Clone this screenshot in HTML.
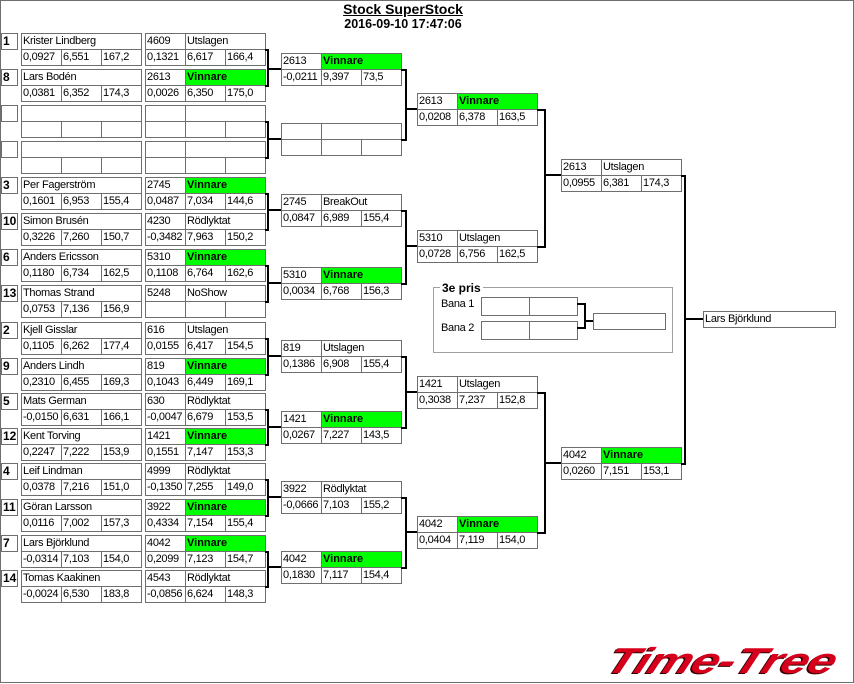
<!DOCTYPE html>
<html><head><meta charset="utf-8">
<style>
html,body{margin:0;padding:0;background:#fff;}
body{width:854px;height:684px;position:relative;overflow:hidden;font-family:"Liberation Sans",Arial,sans-serif;color:#000;}
.frame{position:absolute;left:0;top:0;width:854px;height:683px;box-sizing:border-box;border:1px solid #6e6e6e;}
.b{position:absolute;width:121px;height:33px;}
.b div{position:absolute;box-sizing:border-box;height:17px;border:1px solid #6e6e6e;font-size:11px;line-height:15px;padding-left:1px;white-space:nowrap;overflow:hidden;letter-spacing:-0.3px;}
.b .n{left:0;top:0;width:121px;}
.b .a{left:0;top:0;width:41px;}
.b .s{left:40px;top:0;width:81px;}
.b .r{left:0;top:16px;width:41px;}
.b .e{left:40px;top:16px;width:41px;}
.b .v{left:80px;top:16px;width:41px;}
.b .g{background:#00ff00;font-weight:bold;letter-spacing:0;}
.sd{position:absolute;left:1px;width:17px;height:17px;box-sizing:border-box;border:1px solid #6e6e6e;font-size:12px;font-weight:bold;line-height:15px;padding-left:1px;white-space:nowrap;}
.l{position:absolute;background:#000;}
.bx{position:absolute;box-sizing:border-box;border:1px solid #6e6e6e;font-size:11px;line-height:15px;padding-left:1px;white-space:nowrap;letter-spacing:-0.3px;}
.lbl{position:absolute;font-size:11px;line-height:15px;white-space:nowrap;letter-spacing:-0.3px;}
</style></head><body>
<div class="frame"></div>

<div style="position:absolute;left:303px;top:1px;width:200px;text-align:center;font-weight:bold;font-size:14px;line-height:16px;text-decoration:underline;">Stock SuperStock</div>
<div style="position:absolute;left:303px;top:17px;width:200px;text-align:center;font-weight:bold;font-size:12.5px;line-height:14px;">2016-09-10 17:47:06</div>

<!-- Round 1 -->
<div class="sd" style="top:33px">1</div>
<div class="b" style="left:21px;top:33px"><div class="n">Krister Lindberg</div><div class="r">0,0927</div><div class="e">6,551</div><div class="v">167,2</div></div>
<div class="b" style="left:145px;top:33px"><div class="a">4609</div><div class="s">Utslagen</div><div class="r">0,1321</div><div class="e">6,617</div><div class="v">166,4</div></div>

<div class="sd" style="top:69px">8</div>
<div class="b" style="left:21px;top:69px"><div class="n">Lars Bodén</div><div class="r">0,0381</div><div class="e">6,352</div><div class="v">174,3</div></div>
<div class="b" style="left:145px;top:69px"><div class="a">2613</div><div class="s g">Vinnare</div><div class="r">0,0026</div><div class="e">6,350</div><div class="v">175,0</div></div>

<div class="sd" style="top:105px"></div>
<div class="b" style="left:21px;top:105px"><div class="n"></div><div class="r"></div><div class="e"></div><div class="v"></div></div>
<div class="b" style="left:145px;top:105px"><div class="a"></div><div class="s"></div><div class="r"></div><div class="e"></div><div class="v"></div></div>

<div class="sd" style="top:141px"></div>
<div class="b" style="left:21px;top:141px"><div class="n"></div><div class="r"></div><div class="e"></div><div class="v"></div></div>
<div class="b" style="left:145px;top:141px"><div class="a"></div><div class="s"></div><div class="r"></div><div class="e"></div><div class="v"></div></div>

<div class="sd" style="top:177px">3</div>
<div class="b" style="left:21px;top:177px"><div class="n">Per Fagerström</div><div class="r">0,1601</div><div class="e">6,953</div><div class="v">155,4</div></div>
<div class="b" style="left:145px;top:177px"><div class="a">2745</div><div class="s g">Vinnare</div><div class="r">0,0487</div><div class="e">7,034</div><div class="v">144,6</div></div>

<div class="sd" style="top:213px">10</div>
<div class="b" style="left:21px;top:213px"><div class="n">Simon Brusén</div><div class="r">0,3226</div><div class="e">7,260</div><div class="v">150,7</div></div>
<div class="b" style="left:145px;top:213px"><div class="a">4230</div><div class="s">Rödlyktat</div><div class="r">-0,3482</div><div class="e">7,963</div><div class="v">150,2</div></div>

<div class="sd" style="top:249px">6</div>
<div class="b" style="left:21px;top:249px"><div class="n">Anders Ericsson</div><div class="r">0,1180</div><div class="e">6,734</div><div class="v">162,5</div></div>
<div class="b" style="left:145px;top:249px"><div class="a">5310</div><div class="s g">Vinnare</div><div class="r">0,1108</div><div class="e">6,764</div><div class="v">162,6</div></div>

<div class="sd" style="top:285px">13</div>
<div class="b" style="left:21px;top:285px"><div class="n">Thomas Strand</div><div class="r">0,0753</div><div class="e">7,136</div><div class="v">156,9</div></div>
<div class="b" style="left:145px;top:285px"><div class="a">5248</div><div class="s">NoShow</div><div class="r"></div><div class="e"></div><div class="v"></div></div>

<div class="sd" style="top:322px">2</div>
<div class="b" style="left:21px;top:322px"><div class="n">Kjell Gisslar</div><div class="r">0,1105</div><div class="e">6,262</div><div class="v">177,4</div></div>
<div class="b" style="left:145px;top:322px"><div class="a">616</div><div class="s">Utslagen</div><div class="r">0,0155</div><div class="e">6,417</div><div class="v">154,5</div></div>

<div class="sd" style="top:358px">9</div>
<div class="b" style="left:21px;top:358px"><div class="n">Anders Lindh</div><div class="r">0,2310</div><div class="e">6,455</div><div class="v">169,3</div></div>
<div class="b" style="left:145px;top:358px"><div class="a">819</div><div class="s g">Vinnare</div><div class="r">0,1043</div><div class="e">6,449</div><div class="v">169,1</div></div>

<div class="sd" style="top:393px">5</div>
<div class="b" style="left:21px;top:393px"><div class="n">Mats German</div><div class="r">-0,0150</div><div class="e">6,631</div><div class="v">166,1</div></div>
<div class="b" style="left:145px;top:393px"><div class="a">630</div><div class="s">Rödlyktat</div><div class="r">-0,0047</div><div class="e">6,679</div><div class="v">153,5</div></div>

<div class="sd" style="top:428px">12</div>
<div class="b" style="left:21px;top:428px"><div class="n">Kent Torving</div><div class="r">0,2247</div><div class="e">7,222</div><div class="v">153,9</div></div>
<div class="b" style="left:145px;top:428px"><div class="a">1421</div><div class="s g">Vinnare</div><div class="r">0,1551</div><div class="e">7,147</div><div class="v">153,3</div></div>

<div class="sd" style="top:463px">4</div>
<div class="b" style="left:21px;top:463px"><div class="n">Leif Lindman</div><div class="r">0,0378</div><div class="e">7,216</div><div class="v">151,0</div></div>
<div class="b" style="left:145px;top:463px"><div class="a">4999</div><div class="s">Rödlyktat</div><div class="r">-0,1350</div><div class="e">7,255</div><div class="v">149,0</div></div>

<div class="sd" style="top:499px">11</div>
<div class="b" style="left:21px;top:499px"><div class="n">Göran Larsson</div><div class="r">0,0116</div><div class="e">7,002</div><div class="v">157,3</div></div>
<div class="b" style="left:145px;top:499px"><div class="a">3922</div><div class="s g">Vinnare</div><div class="r">0,4334</div><div class="e">7,154</div><div class="v">155,4</div></div>

<div class="sd" style="top:535px">7</div>
<div class="b" style="left:21px;top:535px"><div class="n">Lars Björklund</div><div class="r">-0,0314</div><div class="e">7,103</div><div class="v">154,0</div></div>
<div class="b" style="left:145px;top:535px"><div class="a">4042</div><div class="s g">Vinnare</div><div class="r">0,2099</div><div class="e">7,123</div><div class="v">154,7</div></div>

<div class="sd" style="top:570px">14</div>
<div class="b" style="left:21px;top:570px"><div class="n">Tomas Kaakinen</div><div class="r">-0,0024</div><div class="e">6,530</div><div class="v">183,8</div></div>
<div class="b" style="left:145px;top:570px"><div class="a">4543</div><div class="s">Rödlyktat</div><div class="r">-0,0856</div><div class="e">6,624</div><div class="v">148,3</div></div>

<!-- Round 2 -->
<div class="b" style="left:281px;top:53px"><div class="a">2613</div><div class="s g">Vinnare</div><div class="r">-0,0211</div><div class="e">9,397</div><div class="v">73,5</div></div>
<div class="b" style="left:281px;top:123px"><div class="a"></div><div class="s"></div><div class="r"></div><div class="e"></div><div class="v"></div></div>
<div class="b" style="left:281px;top:194px"><div class="a">2745</div><div class="s">BreakOut</div><div class="r">0,0847</div><div class="e">6,989</div><div class="v">155,4</div></div>
<div class="b" style="left:281px;top:267px"><div class="a">5310</div><div class="s g">Vinnare</div><div class="r">0,0034</div><div class="e">6,768</div><div class="v">156,3</div></div>
<div class="b" style="left:281px;top:340px"><div class="a">819</div><div class="s">Utslagen</div><div class="r">0,1386</div><div class="e">6,908</div><div class="v">155,4</div></div>
<div class="b" style="left:281px;top:411px"><div class="a">1421</div><div class="s g">Vinnare</div><div class="r">0,0267</div><div class="e">7,227</div><div class="v">143,5</div></div>
<div class="b" style="left:281px;top:481px"><div class="a">3922</div><div class="s">Rödlyktat</div><div class="r">-0,0666</div><div class="e">7,103</div><div class="v">155,2</div></div>
<div class="b" style="left:281px;top:551px"><div class="a">4042</div><div class="s g">Vinnare</div><div class="r">0,1830</div><div class="e">7,117</div><div class="v">154,4</div></div>

<!-- Round 3 -->
<div class="b" style="left:417px;top:93px"><div class="a">2613</div><div class="s g">Vinnare</div><div class="r">0,0208</div><div class="e">6,378</div><div class="v">163,5</div></div>
<div class="b" style="left:417px;top:230px"><div class="a">5310</div><div class="s">Utslagen</div><div class="r">0,0728</div><div class="e">6,756</div><div class="v">162,5</div></div>
<div class="b" style="left:417px;top:376px"><div class="a">1421</div><div class="s">Utslagen</div><div class="r">0,3038</div><div class="e">7,237</div><div class="v">152,8</div></div>
<div class="b" style="left:417px;top:516px"><div class="a">4042</div><div class="s g">Vinnare</div><div class="r">0,0404</div><div class="e">7,119</div><div class="v">154,0</div></div>

<!-- Round 4 -->
<div class="b" style="left:561px;top:159px"><div class="a">2613</div><div class="s">Utslagen</div><div class="r">0,0955</div><div class="e">6,381</div><div class="v">174,3</div></div>
<div class="b" style="left:561px;top:447px"><div class="a">4042</div><div class="s g">Vinnare</div><div class="r">0,0260</div><div class="e">7,151</div><div class="v">153,1</div></div>

<!-- Final -->
<div class="bx" style="left:703px;top:311px;width:133px;height:17px;">Lars Björklund</div>

<!-- R1 connectors -->
<div class="l" style="left:265px;top:49px;width:4px;height:2px"></div><div class="l" style="left:265px;top:85px;width:4px;height:2px"></div><div class="l" style="left:267px;top:49px;width:2px;height:38px"></div><div class="l" style="left:269px;top:68px;width:12px;height:2px"></div>
<div class="l" style="left:265px;top:121px;width:4px;height:2px"></div><div class="l" style="left:265px;top:157px;width:4px;height:2px"></div><div class="l" style="left:267px;top:121px;width:2px;height:38px"></div><div class="l" style="left:269px;top:138px;width:12px;height:2px"></div>
<div class="l" style="left:265px;top:193px;width:4px;height:2px"></div><div class="l" style="left:265px;top:229px;width:4px;height:2px"></div><div class="l" style="left:267px;top:193px;width:2px;height:38px"></div><div class="l" style="left:269px;top:209px;width:12px;height:2px"></div>
<div class="l" style="left:265px;top:265px;width:4px;height:2px"></div><div class="l" style="left:265px;top:301px;width:4px;height:2px"></div><div class="l" style="left:267px;top:265px;width:2px;height:38px"></div><div class="l" style="left:269px;top:282px;width:12px;height:2px"></div>
<div class="l" style="left:265px;top:338px;width:4px;height:2px"></div><div class="l" style="left:265px;top:374px;width:4px;height:2px"></div><div class="l" style="left:267px;top:338px;width:2px;height:38px"></div><div class="l" style="left:269px;top:355px;width:12px;height:2px"></div>
<div class="l" style="left:265px;top:409px;width:4px;height:2px"></div><div class="l" style="left:265px;top:444px;width:4px;height:2px"></div><div class="l" style="left:267px;top:409px;width:2px;height:37px"></div><div class="l" style="left:269px;top:426px;width:12px;height:2px"></div>
<div class="l" style="left:265px;top:479px;width:4px;height:2px"></div><div class="l" style="left:265px;top:515px;width:4px;height:2px"></div><div class="l" style="left:267px;top:479px;width:2px;height:38px"></div><div class="l" style="left:269px;top:496px;width:12px;height:2px"></div>
<div class="l" style="left:265px;top:551px;width:4px;height:2px"></div><div class="l" style="left:265px;top:586px;width:4px;height:2px"></div><div class="l" style="left:267px;top:551px;width:2px;height:37px"></div><div class="l" style="left:269px;top:566px;width:12px;height:2px"></div>

<!-- R2 connectors -->
<div class="l" style="left:401px;top:69px;width:6px;height:2px"></div><div class="l" style="left:401px;top:139px;width:6px;height:2px"></div><div class="l" style="left:405px;top:69px;width:2px;height:72px"></div><div class="l" style="left:407px;top:108px;width:10px;height:2px"></div>
<div class="l" style="left:401px;top:210px;width:6px;height:2px"></div><div class="l" style="left:401px;top:283px;width:6px;height:2px"></div><div class="l" style="left:405px;top:210px;width:2px;height:75px"></div><div class="l" style="left:407px;top:245px;width:10px;height:2px"></div>
<div class="l" style="left:401px;top:356px;width:6px;height:2px"></div><div class="l" style="left:401px;top:427px;width:6px;height:2px"></div><div class="l" style="left:405px;top:356px;width:2px;height:73px"></div><div class="l" style="left:407px;top:391px;width:10px;height:2px"></div>
<div class="l" style="left:401px;top:497px;width:6px;height:2px"></div><div class="l" style="left:401px;top:567px;width:6px;height:2px"></div><div class="l" style="left:405px;top:497px;width:2px;height:72px"></div><div class="l" style="left:407px;top:531px;width:10px;height:2px"></div>

<!-- R3 connectors -->
<div class="l" style="left:537px;top:109px;width:9px;height:2px"></div><div class="l" style="left:537px;top:246px;width:9px;height:2px"></div><div class="l" style="left:544px;top:109px;width:2px;height:139px"></div><div class="l" style="left:546px;top:174px;width:15px;height:2px"></div>
<div class="l" style="left:537px;top:392px;width:9px;height:2px"></div><div class="l" style="left:537px;top:532px;width:9px;height:2px"></div><div class="l" style="left:544px;top:392px;width:2px;height:142px"></div><div class="l" style="left:546px;top:462px;width:15px;height:2px"></div>

<!-- R4 connector -->
<div class="l" style="left:681px;top:175px;width:5px;height:2px"></div><div class="l" style="left:681px;top:463px;width:5px;height:2px"></div><div class="l" style="left:684px;top:175px;width:2px;height:290px"></div><div class="l" style="left:686px;top:318px;width:17px;height:2px"></div>

<!-- 3e pris -->
<div style="position:absolute;left:433px;top:287px;width:240px;height:66px;box-sizing:border-box;border:1px solid #a0a0a0;"></div>
<div style="position:absolute;left:440px;top:281px;padding:0 2px;background:#fff;font-weight:bold;font-size:12px;line-height:14px;">3e pris</div>
<div class="lbl" style="left:441px;top:297px;">Bana 1</div>
<div class="lbl" style="left:441px;top:321px;">Bana 2</div>
<div class="bx" style="left:481px;top:297px;width:49px;height:19px;"></div>
<div class="bx" style="left:529px;top:297px;width:49px;height:19px;"></div>
<div class="bx" style="left:481px;top:321px;width:49px;height:19px;"></div>
<div class="bx" style="left:529px;top:321px;width:49px;height:19px;"></div>
<div class="bx" style="left:593px;top:313px;width:73px;height:17px;"></div>
<div class="l" style="left:577px;top:303px;width:9px;height:2px"></div>
<div class="l" style="left:577px;top:327px;width:9px;height:2px"></div>
<div class="l" style="left:584px;top:303px;width:2px;height:26px"></div>
<div class="l" style="left:586px;top:320px;width:7px;height:2px"></div>

<!-- Logo -->
<div style="position:absolute;left:603px;top:643px;font-style:italic;font-weight:bold;font-size:36px;line-height:36px;color:#d6001c;letter-spacing:-0.5px;white-space:nowrap;transform-origin:0 31px;transform:scaleX(1.37) skewX(-16deg);text-shadow:-1px 1px 0 #300;">Time-Tree</div>
</body></html>
